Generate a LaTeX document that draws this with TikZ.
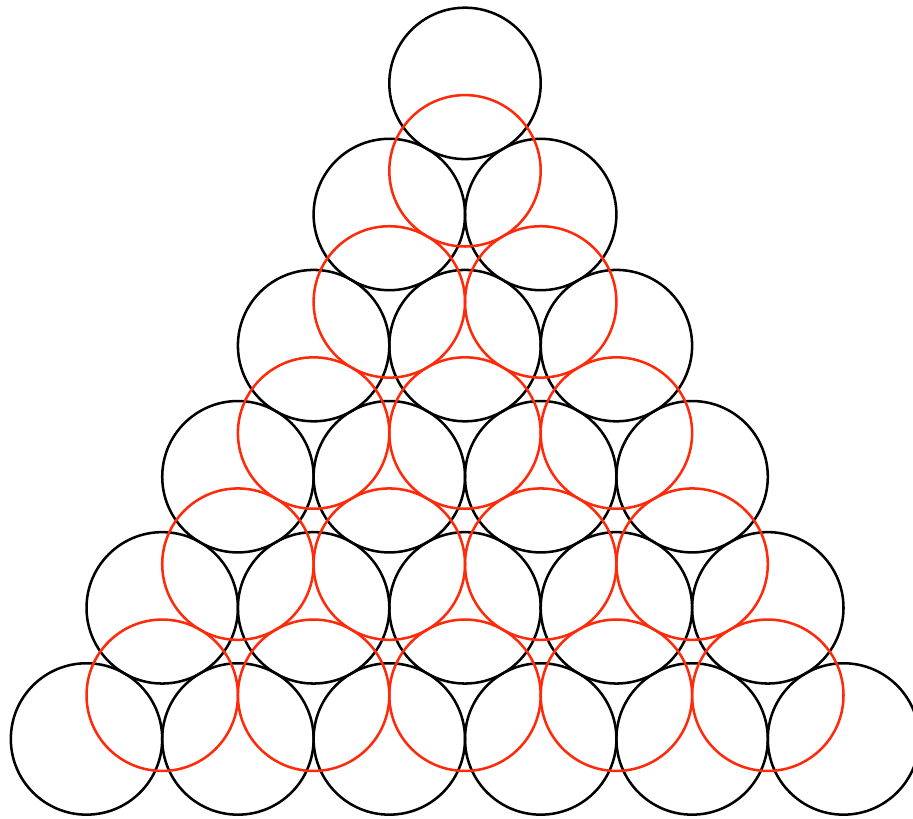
\documentclass[tikz,border=0pt]{standalone}
\usepackage{tikz}
\usetikzlibrary{calc}
\usepackage{xcolor}
\definecolor{ballcolor}{HTML}{000000}
\definecolor{gapcolor}{HTML}{FF2A0A}

\begin{document}
\begin{tikzpicture}[line width=0.95pt]
    \useasboundingbox (-1.143,-1.057) rectangle (10.918,9.762);
    \clip (-1.143,-1.057) rectangle (10.918,9.762);

    % Stacked balls
    \foreach \row in {0,...,5} {
        \pgfmathtruncatemacro{\last}{5-\row}
        \foreach \k in {0,...,\last} {
            \coordinate (B-\row-\k) at ({2*\k+\row},{\row*sqrt(3)});
            \draw[color=ballcolor] (B-\row-\k) circle (1);
        }
    }

    % Balls resting in the hollows of the layer below
    \foreach \row in {0,...,4} {
        \pgfmathtruncatemacro{\last}{4-\row}
        \foreach \k in {0,...,\last} {
            \coordinate (H-\row-\k) at ({2*\k+\row+1},{\row*sqrt(3)+sqrt(3)/3});
            \draw[color=gapcolor] (H-\row-\k) circle (1);
        }
    }
\end{tikzpicture}
\end{document}
